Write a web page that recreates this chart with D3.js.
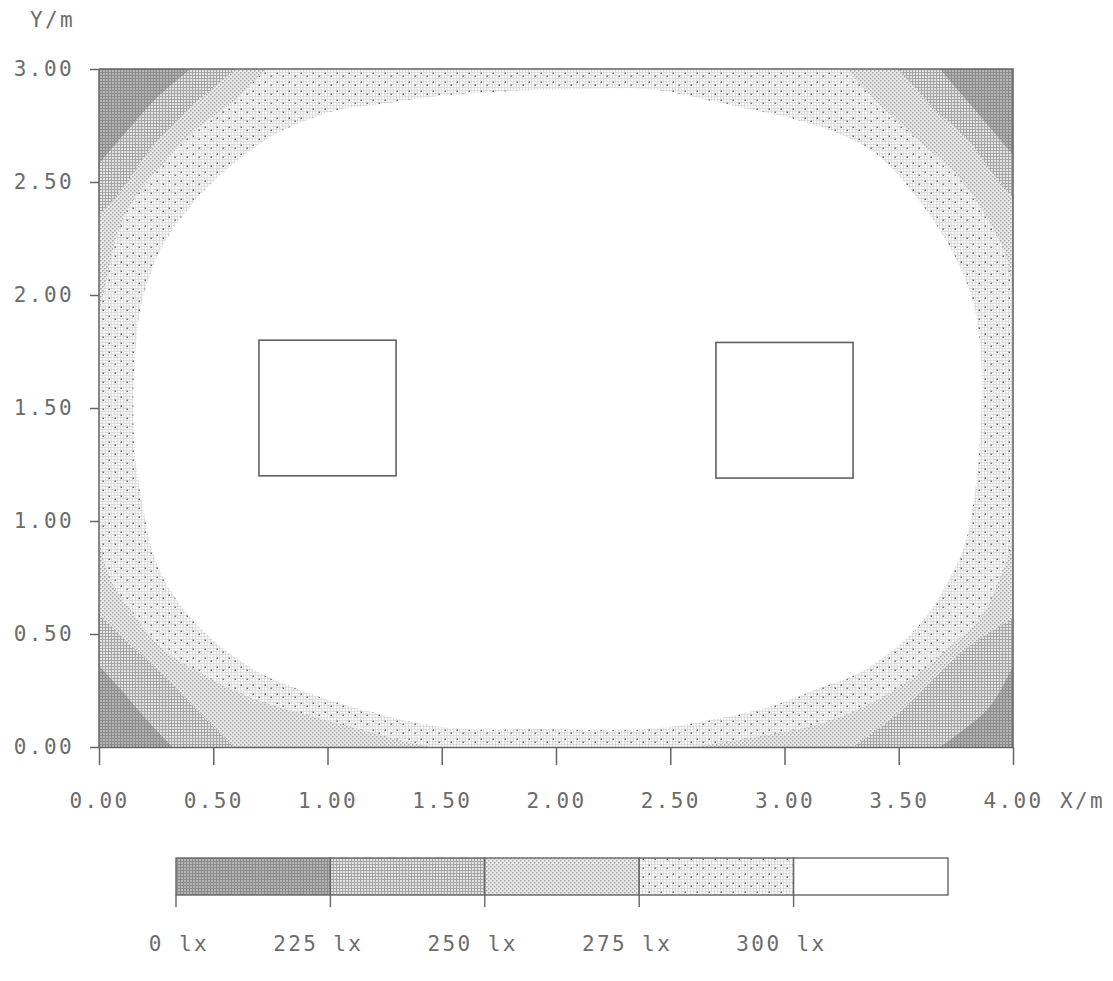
<!DOCTYPE html>
<html>
<head>
<meta charset="utf-8">
<script src="https://cdn.jsdelivr.net/npm/d3@7"></script>
<style>
  body { margin: 0; background: #fff; }
  text { font-family: "DejaVu Sans Mono", monospace; font-size: 21px; fill: #6c6c6c; letter-spacing: 2.4px; }
</style>
</head>
<body>
<svg width="1113" height="981"></svg>
<script>
const xTicks = [0, 0.5, 1, 1.5, 2, 2.5, 3, 3.5, 4];
const yTicks = [0, 0.5, 1, 1.5, 2, 2.5, 3];
const levels = [0, 225, 250, 275, 300];

// isolux lines, in metres
const iso300 = [
  [1.20,2.84],[1.49,2.88],[1.76,2.90],[2.02,2.91],[2.41,2.91],[2.63,2.87],[2.81,2.83],
  [3.07,2.77],[3.29,2.69],[3.43,2.60],[3.58,2.43],[3.69,2.27],[3.77,2.12],[3.83,1.95],
  [3.86,1.73],[3.86,1.45],[3.84,1.18],[3.79,0.90],[3.72,0.74],[3.63,0.59],[3.50,0.45],
  [3.33,0.33],[3.15,0.26],[2.94,0.18],[2.62,0.11],[2.40,0.08],[1.89,0.08],[1.59,0.08],
  [1.37,0.11],[1.21,0.15],[1.03,0.20],[0.86,0.26],[0.72,0.32],[0.59,0.40],[0.47,0.50],
  [0.37,0.61],[0.29,0.73],[0.23,0.88],[0.20,1.02],[0.16,1.27],[0.15,1.54],[0.16,1.76],
  [0.19,1.98],[0.28,2.22],[0.44,2.44],[0.60,2.59],[0.75,2.70],[0.90,2.77],[1.05,2.82]
];
// corner pieces: top-left, top-right, bottom-right, bottom-left
const iso275 = [
  [[0.73,3.00],[0.59,2.86],[0.41,2.72],[0.27,2.57],[0.15,2.42],[0.08,2.27],[0.04,2.10],[0,1.92]],
  [[3.27,3.00],[3.43,2.83],[3.58,2.69],[3.77,2.51],[3.90,2.32],[3.97,2.17],[4,2.02]],
  [[4,0.96],[3.99,0.88],[3.94,0.74],[3.87,0.59],[3.72,0.44],[3.51,0.27],[3.21,0.12],[2.85,0.04],[2.60,0]],
  [[1.45,0],[1.32,0.03],[1.10,0.09],[0.88,0.15],[0.66,0.22],[0.44,0.33],[0.27,0.44],[0.15,0.59],[0.05,0.74],[0,0.92]]
];
const iso250 = [
  [[0.60,3.00],[0.39,2.82],[0.22,2.64],[0.11,2.48],[0,2.35]],
  [[3.50,3.00],[3.65,2.83],[3.80,2.69],[3.91,2.54],[4,2.43]],
  [[4,0.57],[3.80,0.44],[3.65,0.30],[3.50,0.15],[3.30,0]],
  [[0.59,0],[0.44,0.15],[0.30,0.30],[0.15,0.44],[0,0.59]]
];
const iso225 = [
  [[0.40,3.00],[0.25,2.87],[0.10,2.70],[0,2.58]],
  [[3.68,3.00],[3.85,2.80],[4,2.62]],
  [[4,0.36],[3.90,0.18],[3.75,0.05],[3.68,0]],
  [[0.32,0],[0.20,0.13],[0.10,0.25],[0,0.36]]
];
const corners = [[0,3],[4,3],[4,0],[0,0]];
// the two obstacles: x0, y0, x1, y1
const objects = [[0.70,1.20,1.30,1.80],[2.70,1.19,3.30,1.79]];

const svg = d3.select("svg");
const x = d3.scaleLinear().domain([0, 4]).range([99, 1013]);
const y = d3.scaleLinear().domain([0, 3]).range([747, 69]);

// band textures
const defs = svg.append("defs");
const pattern = (id, w, h, bg, marks) => {
  const p = defs.append("pattern").attr("id", id)
    .attr("patternUnits", "userSpaceOnUse").attr("width", w).attr("height", h);
  p.append("rect").attr("width", w).attr("height", h).attr("fill", bg);
  marks.forEach(m => p.append("rect")
    .attr("x", m[0]).attr("y", m[1]).attr("width", m[2]).attr("height", m[3]).attr("fill", m[4]));
};
pattern("b0", 3, 3, "#b4b4b4", [[0,0,3,1,"#8c8c8c"],[0,0,1,3,"#8c8c8c"]]);
pattern("b1", 3, 3, "#e2e2e2", [[0,0,3,0.9,"#a0a0a0"],[0,0,0.9,3,"#a0a0a0"]]);
pattern("b2", 4, 4, "#e9e9e9", [[0,0,1.5,1.5,"#a6a6a6"],[2,2,1.5,1.5,"#a6a6a6"]]);
pattern("b3", 12, 9, "#f8f8f8", [[0,0,12,0.7,"#d6d6d6"],[0,3,12,0.7,"#d6d6d6"],[0,6,12,0.7,"#d6d6d6"],
  [0,0,0.7,9,"#d6d6d6"],[3,0,0.7,9,"#d6d6d6"],[6,0,0.7,9,"#d6d6d6"],[9,0,0.7,9,"#d6d6d6"],
  [0.5,0.5,1.5,1.5,"#707070"],[6.5,3.5,1.5,1.5,"#707070"]]);
const fills = ["url(#b0)", "url(#b1)", "url(#b2)", "url(#b3)", "#fff"];

defs.append("clipPath").attr("id", "plot")
  .append("rect").attr("x", x(0)).attr("y", y(3)).attr("width", x(4) - x(0)).attr("height", y(0) - y(3));

const g = svg.append("g").attr("clip-path", "url(#plot)");
g.append("rect").attr("x", x(0)).attr("y", y(3)).attr("width", x(4) - x(0)).attr("height", y(0) - y(3))
  .attr("fill", fills[3]);

const curve = d3.line().x(d => x(d[0])).y(d => y(d[1])).curve(d3.curveCatmullRom.alpha(0.5));
const cornerPath = (pts, i) => curve(pts) + `L${x(corners[i][0])},${y(corners[i][1])}Z`;

[[iso275, fills[2]], [iso250, fills[1]], [iso225, fills[0]]].forEach(([iso, f]) => {
  g.selectAll(null).data(iso).enter().append("path")
    .attr("d", cornerPath).attr("fill", f);
});

g.append("path")
  .attr("d", d3.line().x(d => x(d[0])).y(d => y(d[1])).curve(d3.curveCatmullRomClosed.alpha(0.5))(iso300))
  .attr("fill", fills[4]);

g.selectAll(null).data(objects).enter().append("rect")
  .attr("x", d => x(d[0])).attr("y", d => y(d[3]))
  .attr("width", d => x(d[2]) - x(d[0])).attr("height", d => y(d[1]) - y(d[3]))
  .attr("fill", "#fff").attr("stroke", "#606060").attr("stroke-width", 1.6);

// frame
svg.append("path")
  .attr("d", `M${x(0)},${y(3)}H${x(4)}V${y(0)}`)
  .attr("fill", "none").attr("stroke", "#666").attr("stroke-width", 1.6);

const xAxis = svg.append("g").attr("transform", `translate(0,${y(0)})`)
  .call(d3.axisBottom(x).tickValues(xTicks).tickSize(18).tickSizeOuter(0).tickPadding(28).tickFormat(d3.format(".2f")));
const yAxis = svg.append("g").attr("transform", `translate(${x(0)},0)`)
  .call(d3.axisLeft(y).tickValues(yTicks).tickSize(9).tickSizeOuter(0).tickPadding(16).tickFormat(d3.format(".2f")));
[xAxis, yAxis].forEach(a => {
  a.selectAll("path, line").attr("stroke", "#666").attr("stroke-width", 1.5);
  a.selectAll("text").attr("font-family", null).attr("font-size", null).attr("fill", null);
});
yAxis.select(".domain").attr("d", `M0,${y(3)}V${y(0)}`);

svg.append("text").attr("x", 30).attr("y", 27).text("Y/m");
svg.append("text").attr("x", 1060).attr("y", 808).text("X/m");

// legend
const lx = d3.scaleLinear().domain([0, levels.length]).range([176, 948]);
const legend = svg.append("g");
legend.selectAll("rect").data(levels).enter().append("rect")
  .attr("x", (d, i) => lx(i)).attr("y", 858)
  .attr("width", lx(1) - lx(0)).attr("height", 37)
  .attr("fill", (d, i) => fills[i]).attr("stroke", "#666").attr("stroke-width", 1.4);
legend.selectAll("line").data(levels).enter().append("line")
  .attr("x1", (d, i) => lx(i)).attr("x2", (d, i) => lx(i))
  .attr("y1", 895).attr("y2", 907).attr("stroke", "#666").attr("stroke-width", 1.4);
legend.selectAll("text").data(levels).enter().append("text")
  .attr("x", (d, i) => lx(i) + 33).attr("y", 951).attr("text-anchor", "end")
  .text(d => `${d} lx`);
</script>
</body>
</html>
